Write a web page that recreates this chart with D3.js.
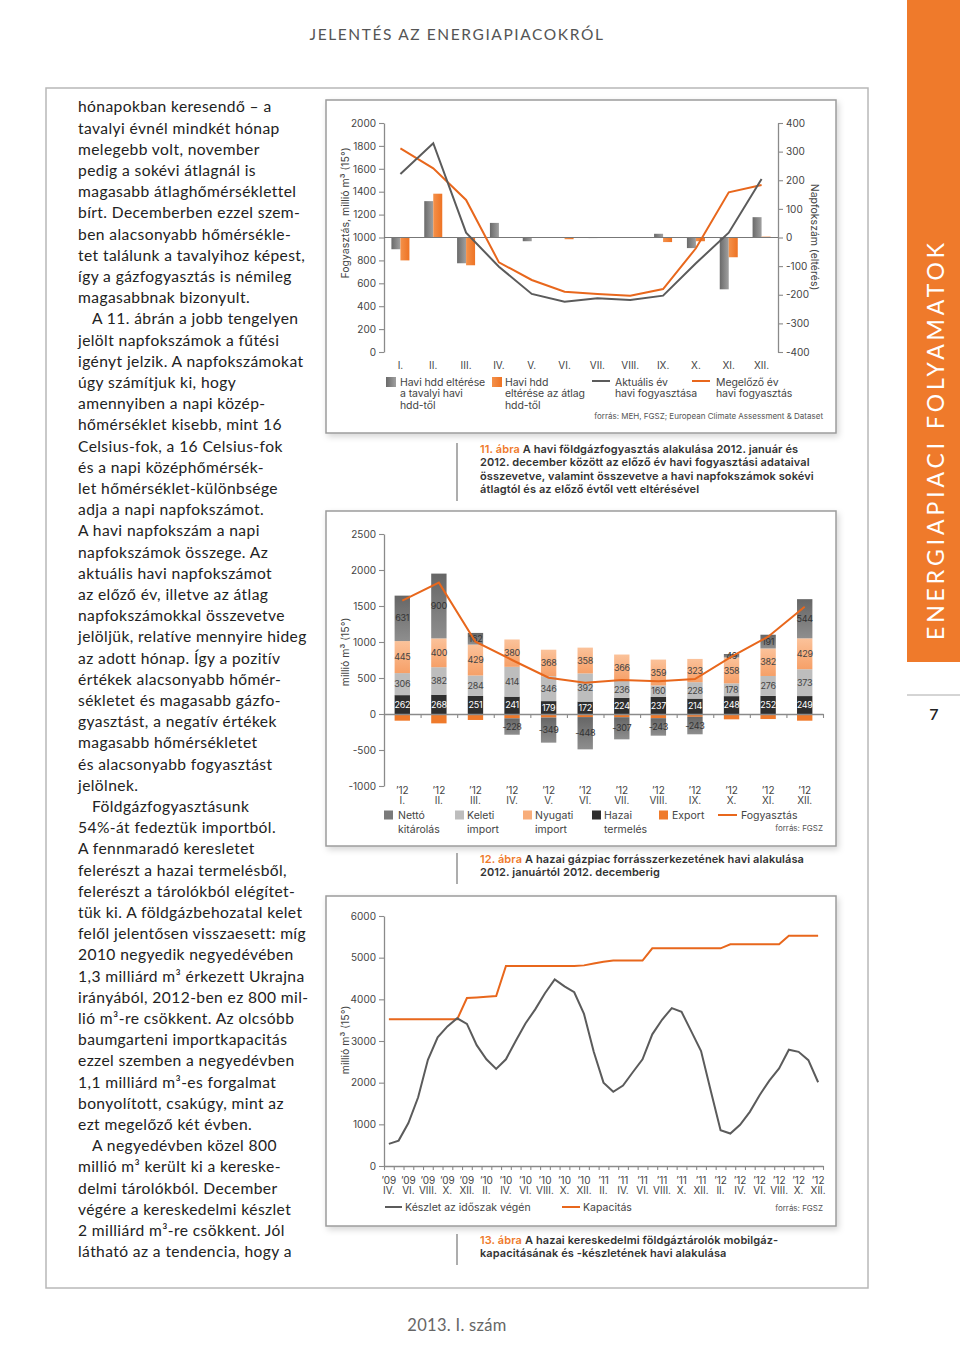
<!DOCTYPE html>
<html><head><meta charset="utf-8">
<script src="https://cdn.jsdelivr.net/npm/d3@7"></script>
<style>body{margin:0;background:#fff}svg{display:block}</style>
</head><body>
<svg id="page" width="960" height="1358"></svg>
<script>
// ---------- DATA ----------
// Chart 11
const months1 = ["I.","II.","III.","IV.","V.","VI.","VII.","VIII.","IX.","X.","XI.","XII."];
const hddVsPrev = [-41,127,-90,51,-13,0,-2,0,13,-37,-181,71];
const hddVsAvg  = [-80,153,-97,-1,-1,-6,-1,-1,-16,-13,-69,3];
const cons2012  = [1555,1823,1042,745,507,440,470,455,492,775,1042,1511];
const cons2011  = [1779,1604,1328,783,629,527,507,492,550,906,1395,1459];
const ticksLeft1 = [0,200,400,600,800,1000,1200,1400,1600,1800,2000];
const ticksRight1 = [-400,-300,-200,-100,0,100,200,300,400];
// Chart 12
const months2 = ["I.","II.","III.","IV.","V.","VI.","VII.","VIII.","IX.","X.","XI.","XII."];
const hazai   = [262,268,251,241,179,172,224,237,214,248,252,249];
const keleti  = [306,382,284,414,346,392,236,160,228,178,276,373];
const nyugati = [445,400,429,380,368,358,366,359,323,358,382,429];
const netto   = [631,900,162,-228,-349,-448,-307,-243,-243,49,191,544];
const exportV = [-93,-130,-83,-60,-49,-43,-45,-58,-39,-74,-70,-93];
const fogy    = [1574,1824,1004,750,504,435,472,454,486,796,1074,1490];
const ticks2 = [-1000,-500,0,500,1000,1500,2000,2500];
// Chart 13 (2009 IV – 2012 XII)
const months3 = ["IV.","V.","VI.","VII.","VIII.","IX.","X.","XI.","XII.",
 "I.","II.","III.","IV.","V.","VI.","VII.","VIII.","IX.","X.","XI.","XII.",
 "I.","II.","III.","IV.","V.","VI.","VII.","VIII.","IX.","X.","XI.","XII.",
 "I.","II.","III.","IV.","V.","VI.","VII.","VIII.","IX.","X.","XI.","XII."];
const years3 = ["’09","’09","’09","’09","’09","’09","’09","’09","’09",
 "’10","’10","’10","’10","’10","’10","’10","’10","’10","’10","’10","’10",
 "’11","’11","’11","’11","’11","’11","’11","’11","’11","’11","’11","’11",
 "’12","’12","’12","’12","’12","’12","’12","’12","’12","’12","’12","’12"];
const keszlet = [530,610,1030,1650,2550,3090,3350,3545,3410,
 2900,2560,2330,2560,3000,3420,3760,4145,4480,4310,4170,3650,
 2740,2000,1780,1930,2250,2560,3160,3510,3790,3700,3230,2760,
 1800,860,780,990,1300,1700,2050,2340,2790,2740,2540,2010];
const kapacitas = [3520,3520,3520,3520,3520,3520,3520,3520,4030,
 4045,4060,4080,4800,4800,4800,4800,4800,4800,4800,4800,4815,
 4860,4900,4930,4930,4930,4930,5224,5224,5224,5224,5224,5224,
 5224,5224,5320,5320,5320,5320,5320,5320,5528,5528,5528,5528];
const ticks3 = [0,1000,2000,3000,4000,5000,6000];

const bodyLines = [
 ["hónapokban keresendő – a",0],["tavalyi évnél mindkét hónap",0],["melegebb volt, november",0],
 ["pedig a sokévi átlagnál is",0],["magasabb átlaghőmérséklettel",0],["bírt. Decemberben ezzel szem-",0],
 ["ben alacsonyabb hőmérsékle-",0],["tet találunk a tavalyihoz képest,",0],["így a gázfogyasztás is némileg",0],
 ["magasabbnak bizonyult.",0],["A 11. ábrán a jobb tengelyen",1],["jelölt napfokszámok a fűtési",0],
 ["igényt jelzik. A napfokszámokat",0],["úgy számítjuk ki, hogy",0],["amennyiben a napi közép-",0],
 ["hőmérséklet kisebb, mint 16",0],["Celsius-fok, a 16 Celsius-fok",0],["és a napi középhőmérsék-",0],
 ["let hőmérséklet-különbsége",0],["adja a napi napfokszámot.",0],["A havi napfokszám a napi",0],
 ["napfokszámok összege. Az",0],["aktuális havi napfokszámot",0],["az előző év, illetve az átlag",0],
 ["napfokszámokkal összevetve",0],["jelöljük, relatíve mennyire hideg",0],["az adott hónap. Így a pozitív",0],
 ["értékek alacsonyabb hőmér-",0],["sékletet és magasabb gázfo-",0],["gyasztást, a negatív értékek",0],
 ["magasabb hőmérsékletet",0],["és alacsonyabb fogyasztást",0],["jelölnek.",0],
 ["Földgázfogyasztásunk",1],["54%-át fedeztük importból.",0],["A fennmaradó keresletet",0],
 ["felerészt a hazai termelésből,",0],["felerészt a tárolókból elégítet-",0],["tük ki. A földgázbehozatal kelet",0],
 ["felől jelentősen visszaesett: míg",0],["2010 negyedik negyedévében",0],["1,3 milliárd m³ érkezett Ukrajna",0],
 ["irányából, 2012-ben ez 800 mil-",0],["lió m³-re csökkent. Az olcsóbb",0],["baumgarteni importkapacitás",0],
 ["ezzel szemben a negyedévben",0],["1,1 milliárd m³-es forgalmat",0],["bonyolított, csakúgy, mint az",0],
 ["ezt megelőző két évben.",0],["A negyedévben közel 800",1],["millió m³ került ki a kereske-",0],
 ["delmi tárolókból. December",0],["végére a kereskedelmi készlet",0],["2 milliárd m³-re csökkent. Jól",0],
 ["látható az a tendencia, hogy a",0]
];

// ---------- STYLE ----------
const UI = "Inter, 'Open Sans', sans-serif";
const BODY = "Lato, 'Open Sans', sans-serif";
const ORANGE = "#ef7a2b", GRAYLINE = "#5b5b5b", TXT = "#444";

const svg = d3.select("#page");
const defs = svg.append("defs");
const flt = defs.append("filter").attr("id","shadow").attr("x","-5%").attr("y","-5%").attr("width","112%").attr("height","116%");
flt.append("feDropShadow").attr("dx",2).attr("dy",3).attr("stdDeviation",3).attr("flood-color","#000").attr("flood-opacity",0.16);
function grad(id, c0, c1, horiz){
  const g = defs.append("linearGradient").attr("id",id)
    .attr("x1",0).attr("y1",0).attr("x2",horiz?1:0).attr("y2",horiz?0:1);
  g.append("stop").attr("offset","0%").attr("stop-color",c0);
  g.append("stop").attr("offset","100%").attr("stop-color",c1);
}
grad("gGray","#6a6a6a","#a0a0a0",true);
grad("gOr","#f4914a","#ee7324",true);
grad("gNet","#666","#8e8e8e",false);
grad("gNyu","#fbc29a","#f6a068",false);

function txt(g,x,y,s,o={}){
  return g.append("text").attr("x",x).attr("y",y).attr("dy","0.35em")
    .attr("font-family",o.f||UI).attr("font-size",o.s||10).attr("fill",o.c||TXT)
    .attr("font-weight",o.w||400).attr("text-anchor",o.a||"start")
    .attr("letter-spacing",o.ls||0).text(s);
}
function styleAxis(g){
  g.select(".domain").attr("stroke","#8a8a8a").attr("stroke-width",1.3);
  g.selectAll(".tick line").attr("stroke","#8a8a8a").attr("stroke-width",1.1);
  g.selectAll(".tick text").attr("fill",TXT).attr("font-family",UI).attr("font-size",10);
}

// ---------- PAGE ----------
svg.append("rect").attr("x",46).attr("y",88).attr("width",822).attr("height",1200)
  .attr("fill","none").attr("stroke","#b8b8b8").attr("stroke-width",1.5);
txt(svg,457,35,"JELENTÉS AZ ENERGIAPIACOKRÓL",{s:15.5,c:"#555",a:"middle",ls:1.6,f:BODY});
txt(svg,457,1325,"2013. I. szám",{s:16.5,c:"#666",a:"middle",f:BODY,ls:0.3});
svg.append("rect").attr("x",907).attr("y",0).attr("width",53).attr("height",662).attr("fill",ORANGE);
svg.append("text").attr("transform","translate(944,640) rotate(-90)")
  .attr("font-family",BODY).attr("font-size",23).attr("fill","#fff")
  .attr("textLength",397).attr("lengthAdjust","spacing").text("ENERGIAPIACI FOLYAMATOK");
svg.append("line").attr("x1",907).attr("x2",960).attr("y1",695).attr("y2",695).attr("stroke","#aaa").attr("stroke-width",1);
txt(svg,934,714,"7",{s:16,c:"#222",a:"middle",f:BODY,w:600});

// body text
const bodyG = svg.append("g");
bodyLines.forEach((l,i)=>{
  txt(bodyG, l[1]?92:78, 107+i*21.2, l[0], {f:BODY,s:15.6,c:"#222",ls:0.4});
});

// boxes
[[100,333],[511,335],[896,330]].forEach(b=>{
  svg.append("rect").attr("x",326).attr("y",b[0]).attr("width",510).attr("height",b[1])
    .attr("fill","#fff").attr("stroke","#9c9c9c").attr("stroke-width",1.5).attr("filter","url(#shadow)");
});

// ---------- CHART 11 ----------
const c1 = svg.append("g");
const xb1 = d3.scaleBand().domain(months1).range([384,778]);
const yL1 = d3.scaleLinear().domain([0,2000]).range([352,123]);
const yR1 = d3.scaleLinear().domain([-400,400]).range([352,123]);
const axL1 = c1.append("g").attr("transform","translate(384,0)")
  .call(d3.axisLeft(yL1).tickValues(ticksLeft1).tickSize(5).tickSizeOuter(0).tickPadding(3).tickFormat(d=>String(d)));
styleAxis(axL1);
const axR1 = c1.append("g").attr("transform","translate(778,0)")
  .call(d3.axisRight(yR1).tickValues(ticksRight1).tickSize(5).tickSizeOuter(0).tickPadding(3).tickFormat(d=>String(d)));
styleAxis(axR1);
const bw1 = 9;
c1.selectAll(".bp").data(hddVsPrev).join("rect")
  .attr("x",(d,i)=>xb1(months1[i])+xb1.bandwidth()/2-bw1).attr("width",bw1)
  .attr("y",d=>yR1(Math.max(0,d))).attr("height",d=>Math.abs(yR1(d)-yR1(0)))
  .attr("fill","url(#gGray)");
c1.selectAll(".ba").data(hddVsAvg).join("rect")
  .attr("x",(d,i)=>xb1(months1[i])+xb1.bandwidth()/2).attr("width",bw1)
  .attr("y",d=>yR1(Math.max(0,d))).attr("height",d=>Math.abs(yR1(d)-yR1(0)))
  .attr("fill","url(#gOr)");
c1.append("line").attr("x1",384).attr("x2",778).attr("y1",yL1(1000)).attr("y2",yL1(1000))
  .attr("stroke","#777").attr("stroke-width",1.2);
const ln1 = d3.line().x((d,i)=>xb1(months1[i])+xb1.bandwidth()/2).y(d=>yL1(d));
c1.append("path").attr("d",ln1(cons2011)).attr("fill","none").attr("stroke","#e8671c").attr("stroke-width",2);
c1.append("path").attr("d",ln1(cons2012)).attr("fill","none").attr("stroke",GRAYLINE).attr("stroke-width",2);
months1.forEach(m=>txt(c1,xb1(m)+xb1.bandwidth()/2,365,m,{a:"middle"}));
c1.append("text").attr("transform","translate(345,213) rotate(-90)").attr("dy","0.35em")
  .attr("text-anchor","middle").attr("font-family",UI).attr("font-size",10.5).attr("fill",TXT)
  .text("Fogyasztás, millió m³ (15°)");
c1.append("text").attr("transform","translate(815,237) rotate(90)").attr("dy","0.35em")
  .attr("text-anchor","middle").attr("font-family",UI).attr("font-size",10.5).attr("fill",TXT)
  .text("Napfokszám (eltérés)");
// legend 1
c1.append("rect").attr("x",386).attr("y",377).attr("width",10).attr("height",10).attr("fill","url(#gGray)");
c1.append("rect").attr("x",492).attr("y",377).attr("width",10).attr("height",10).attr("fill","url(#gOr)");
c1.append("line").attr("x1",592).attr("x2",610).attr("y1",381).attr("y2",381).attr("stroke",GRAYLINE).attr("stroke-width",2);
c1.append("line").attr("x1",692).attr("x2",710).attr("y1",381).attr("y2",381).attr("stroke","#e8671c").attr("stroke-width",2);
[["Havi hdd eltérése","a tavalyi havi","hdd-től",400],["Havi hdd","eltérése az átlag","hdd-től",505],
 ["Aktuális év","havi fogyasztása","",615],["Megelőző év","havi fogyasztás","",716]].forEach(l=>{
  [0,1,2].forEach(k=>{ if(l[k]) txt(c1,l[3],382+k*11.5,l[k],{s:10.5,ls:-0.1}); });
});
txt(c1,823,416,"forrás: MEH, FGSZ; European Climate Assessment & Dataset",{s:8,a:"end",c:"#555"});

// captions
function caption(y0, num, lines){
  const h = lines.length*13.5;
  svg.append("line").attr("x1",457).attr("x2",457).attr("y1",y0-6).attr("y2",y0-6+h+4).attr("stroke","#8a8a8a").attr("stroke-width",1.4);
  lines.forEach((l,i)=>{
    const t = svg.append("text").attr("x",480).attr("y",y0+i*13.5).attr("dy","0.35em")
      .attr("font-family",UI).attr("font-size",11).attr("font-weight",600).attr("fill","#333").attr("letter-spacing",0.1);
    if(i===0){ t.append("tspan").attr("fill",ORANGE).text(num+" "); }
    t.append("tspan").text(l);
  });
}
caption(449,"11. ábra",["A havi földgázfogyasztás alakulása 2012. január és",
 "2012. december között az előző év havi fogyasztási adataival",
 "összevetve, valamint összevetve a havi napfokszámok sokévi",
 "átlagtól és az előző évtől vett eltérésével"]);
caption(859,"12. ábra",["A hazai gázpiac forrásszerkezetének havi alakulása","2012. januártól 2012. decemberig"]);
caption(1240,"13. ábra",["A hazai kereskedelmi földgáztárolók mobilgáz-","kapacitásának és -készletének havi alakulása"]);

// ---------- CHART 12 ----------
const c2 = svg.append("g");
const xb2 = d3.scaleBand().domain(months2).range([384,823]);
const xl2 = d3.scaleLinear().domain([0,12]).range([384,823]);
const y2 = d3.scaleLinear().domain([-1000,2500]).range([786,534]);
const ax2 = c2.append("g").attr("transform","translate(384,0)")
  .call(d3.axisLeft(y2).tickValues(ticks2).tickSize(5).tickSizeOuter(0).tickPadding(3).tickFormat(d=>String(d)));
styleAxis(ax2);
const bw2 = xb2.bandwidth()*0.42;
const seriesPos = [
  {v:hazai, fill:"#2e2e2e", lab:"#fff"},
  {v:keleti, fill:"#bdbdbd", lab:"#444"},
  {v:nyugati, fill:"url(#gNyu)", lab:"#444"},
  {v:netto, fill:"url(#gNet)", lab:"#333"}
];
months2.forEach((m,i)=>{
  const cx = xb2(m)+xb2.bandwidth()/2;
  let pos = 0, neg = 0;
  const segs = [];
  const ev = exportV[i];
  segs.push({a:neg+ev,b:neg,fill:ORANGE,lab:null}); neg += ev;
  seriesPos.forEach(s=>{
    const v = s.v[i];
    if(v>=0){ segs.push({a:pos,b:pos+v,fill:s.fill,lab:s.lab,val:v}); pos+=v; }
    else { segs.push({a:neg+v,b:neg,fill:s.fill,lab:s.lab,val:v}); neg+=v; }
  });
  segs.forEach(s=>{
    c2.append("rect").attr("x",cx-bw2/2).attr("width",bw2)
      .attr("y",y2(s.b)).attr("height",y2(s.a)-y2(s.b)).attr("fill",s.fill);
  });
  segs.forEach(s=>{
    if(s.lab) txt(c2,cx,(y2(s.a)+y2(s.b))/2,String(s.val),{s:9,c:s.lab,a:"middle",ls:-0.3});
  });
});
const ax2b = c2.append("g").attr("transform",`translate(0,${y2(0)})`)
  .call(d3.axisBottom(xl2).tickValues(d3.range(13)).tickSize(4).tickSizeOuter(0).tickFormat(""));
styleAxis(ax2b);
const ln2 = d3.line().x((d,i)=>xb2(months2[i])+xb2.bandwidth()/2).y(d=>y2(d));
c2.append("path").attr("d",ln2(fogy)).attr("fill","none").attr("stroke","#e8671c").attr("stroke-width",2);
months2.forEach(m=>{
  const cx = xb2(m)+xb2.bandwidth()/2;
  txt(c2,cx,790,"’12",{a:"middle"}); txt(c2,cx,800.5,m,{a:"middle"});
});
c2.append("text").attr("transform","translate(345,652) rotate(-90)").attr("dy","0.35em")
  .attr("text-anchor","middle").attr("font-family",UI).attr("font-size",10.5).attr("fill",TXT).text("millió m³ (15°)");
[["#7a7a7a",384,"Nettó","kitárolás",398],["#bdbdbd",455,"Keleti","import",467],["#f8ad7a",523,"Nyugati","import",535],
 ["#2e2e2e",592,"Hazai","termelés",604],[ORANGE,659,"Export","",672]].forEach(l=>{
  c2.append("rect").attr("x",l[1]).attr("y",810.5).attr("width",9).attr("height",9).attr("fill",l[0]);
  txt(c2,l[4],815,l[2],{s:10.5}); if(l[3]) txt(c2,l[4],829,l[3],{s:10.5});
});
c2.append("line").attr("x1",718).attr("x2",737).attr("y1",815).attr("y2",815).attr("stroke","#e8671c").attr("stroke-width",2);
txt(c2,741,815,"Fogyasztás",{s:10.5});
txt(c2,823,828,"forrás: FGSZ",{s:8,a:"end",c:"#555"});

// ---------- CHART 13 ----------
const c3 = svg.append("g");
const idx3 = d3.range(keszlet.length);
const xb3 = d3.scaleBand().domain(idx3).range([384,823]);
const xl3 = d3.scaleLinear().domain([0,45]).range([384,823]);
const y3 = d3.scaleLinear().domain([0,6000]).range([1166,916]);
const ax3 = c3.append("g").attr("transform","translate(384,0)")
  .call(d3.axisLeft(y3).tickValues(ticks3).tickSize(5).tickSizeOuter(0).tickPadding(3).tickFormat(d=>String(d)));
styleAxis(ax3);
const ax3b = c3.append("g").attr("transform",`translate(0,${y3(0)})`)
  .call(d3.axisBottom(xl3).tickValues(d3.range(46)).tickSize(4).tickSizeOuter(0).tickFormat(""));
styleAxis(ax3b);
const ln3 = d3.line().x((d,i)=>xb3(i)+xb3.bandwidth()/2).y(d=>y3(d));
c3.append("path").attr("d",ln3(kapacitas)).attr("fill","none").attr("stroke","#e8671c").attr("stroke-width",2);
c3.append("path").attr("d",ln3(keszlet)).attr("fill","none").attr("stroke",GRAYLINE).attr("stroke-width",2);
idx3.filter(i=>i%2===0).forEach(i=>{
  const cx = xb3(i)+xb3.bandwidth()/2;
  txt(c3,cx,1180,years3[i],{a:"middle"}); txt(c3,cx,1190.5,months3[i],{a:"middle"});
});
c3.append("text").attr("transform","translate(345,1040) rotate(-90)").attr("dy","0.35em")
  .attr("text-anchor","middle").attr("font-family",UI).attr("font-size",10.5).attr("fill",TXT).text("millió m³ (15°)");
c3.append("line").attr("x1",385).attr("x2",402).attr("y1",1207).attr("y2",1207).attr("stroke",GRAYLINE).attr("stroke-width",2);
txt(c3,405,1207.5,"Készlet az időszak végén",{s:10.5});
c3.append("line").attr("x1",562).attr("x2",580).attr("y1",1207).attr("y2",1207).attr("stroke","#e8671c").attr("stroke-width",2);
txt(c3,583,1207.5,"Kapacitás",{s:10.5});
txt(c3,823,1208,"forrás: FGSZ",{s:8,a:"end",c:"#555"});
</script>
</body></html>
